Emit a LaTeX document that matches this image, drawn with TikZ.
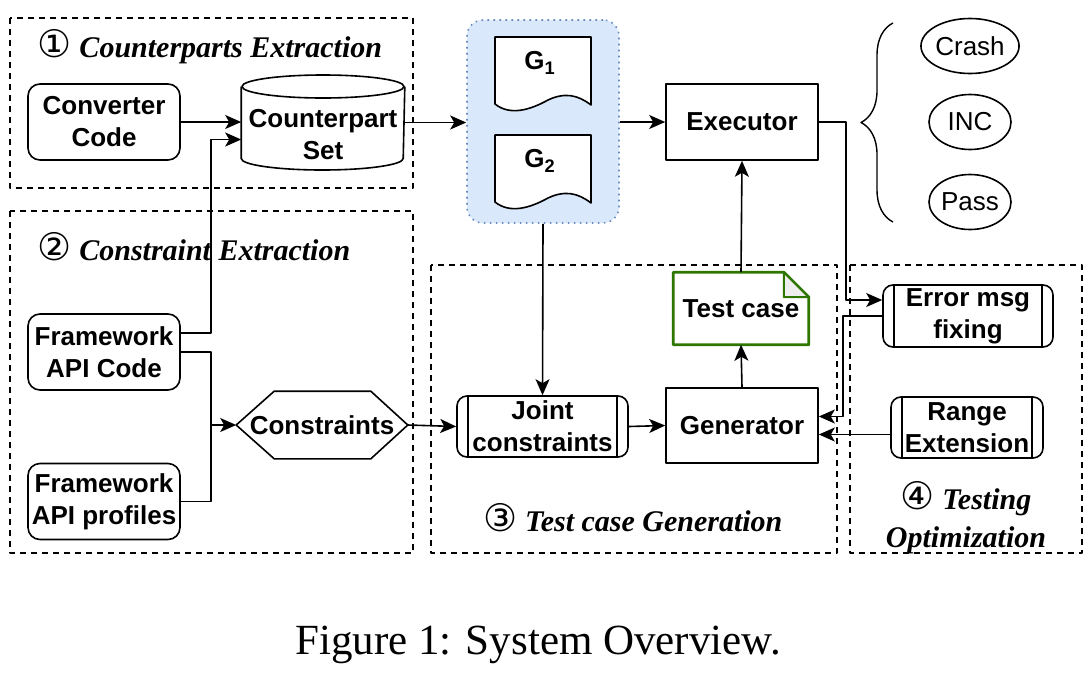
\documentclass[tikz,border=0pt]{standalone}
\usepackage{fontspec}
\setmainfont{Liberation Serif}
\setsansfont{Liberation Sans}
\newfontfamily\circfont{DejaVu Sans}
\usetikzlibrary{arrows.meta, positioning, shapes.geometric, decorations.pathreplacing}

\definecolor{gfill}{HTML}{DAE8FC}
\definecolor{gline}{HTML}{6C8EBF}
\definecolor{tcgreen}{HTML}{2D7600}
\definecolor{foldgray}{HTML}{EEEEEE}

\tikzset{
  boxfont/.style={font=\fontsize{13}{16}\selectfont\sffamily\bfseries},
  rbox/.style={draw, boxfont, rounded corners=6pt, align=center, inner sep=0pt, minimum width=76pt, minimum height=38pt},
  sbox/.style={draw, boxfont, align=center, inner sep=0pt, minimum width=76pt, minimum height=38pt},
  procbox/.style={draw, boxfont, rounded corners=5pt, align=center, inner sep=0pt, minimum height=30.5pt,
    path picture={
      \draw ([xshift=5.5pt]path picture bounding box.north west) -- ([xshift=5.5pt]path picture bounding box.south west);
      \draw ([xshift=-5.5pt]path picture bounding box.north east) -- ([xshift=-5.5pt]path picture bounding box.south east);}},
  outcome/.style={draw, ellipse, font=\fontsize{13}{16}\selectfont\sffamily, inner sep=0pt, minimum width=41pt, minimum height=27.5pt},
  region/.style={dash pattern=on 3pt off 2.5pt, line width=0.7pt},
  ttl/.style={font=\fontsize{15}{19}\selectfont\bfseries\itshape, align=center},
  arr/.style={-{Stealth[length=8pt, width=7pt, inset=2pt]}},
}
\newcommand{\cnum}[1]{{\circfont\mdseries\upshape\fontsize{19}{19}\selectfont #1}}

\begin{document}
\begin{tikzpicture}[x=0.5pt, y=-0.5pt, line width=0.8pt, line join=round]
  \useasboundingbox (0,0) rectangle (1085,675);

  % dashed stage frames
  \draw[region] (10,18) rectangle (413,188);
  \draw[region] (10,211) rectangle (413,553);
  \draw[region] (431,265) rectangle (837,553);
  \draw[region] (850,265) rectangle (1082,553);

  \node[ttl] (t1) at (210,47) {\cnum{①} Counterparts Extraction};
  \node[ttl] (t2) at (194,247) {\cnum{②} Constraint Extraction};
  \node[ttl] (t3) at (633,518) {\cnum{③} Test case Generation};
  \node[ttl] (t4) at (966,518) {\cnum{④} Testing\\Optimization};

  % stage 1 and 2
  \node[rbox] (conv) at (104,122) {Converter\\Code};
  \node[inner sep=0pt, minimum width=81pt, minimum height=47.5pt] (cset) at (323,122.5) {};
  \draw (cset.north west |- 0,86.5) -- (cset.south west |- 0,158.5) arc[start angle=180, end angle=0, x radius=81, y radius=11.5]
    -- (cset.north east |- 0,86.5);
  \draw (323,86.5) ellipse [x radius=81, y radius=11.5];
  \node[boxfont, align=center] (csettxt) at (323,135) {Counterpart\\Set};
  \node[rbox] (fac) at (104,352) {Framework\\API Code};
  \node[rbox] (fap) at (104,501.5) {Framework\\API profiles};
  \node[boxfont, inner sep=0pt, minimum width=85pt, minimum height=33pt] (cons) at (322,425) {Constraints};
  \draw (cons.west) -- ([xshift=19pt]cons.north west) -- ([xshift=-18.5pt]cons.north east) -- (cons.east)
    -- ([xshift=-18.5pt]cons.south east) -- ([xshift=19pt]cons.south west) -- cycle;

  % graph pair
  \node[draw=gline, fill=gfill, dash pattern=on 0.8pt off 2.2pt, rounded corners=8pt,
        minimum width=76pt, minimum height=101.5pt] (gset) at (543,121.5) {};
  \draw[fill=white] (495,37) -- (591,37) -- (591,105) .. controls (578,95) and (565,92) .. (548,100)
    .. controls (530,110) and (510,116) .. (495,104) -- cycle;
  \draw[fill=white] (495,135) -- (591,135) -- (591,203) .. controls (578,193) and (565,190) .. (548,198)
    .. controls (530,208) and (510,214) .. (495,202) -- cycle;
  \node[boxfont] (g1) at (540,63) {G\textsubscript{1}};
  \node[boxfont] (g2) at (540,161) {G\textsubscript{2}};

  % execution
  \node[sbox] (exec) at (742,122) {Executor};
  \node[outcome] (crash) at (970,46) {Crash};
  \node[outcome] (inc) at (970,122) {INC};
  \node[outcome] (pass) at (970,202) {Pass};
  \draw[decorate, decoration={brace, amplitude=16pt}, line width=0.7pt] (893,222) -- (893,23);

  % stage 3
  \node[procbox, minimum width=85.5pt] (joint) at (542.5,426.5) {Joint\\constraints};
  \node[sbox, minimum height=37.5pt] (gen) at (742,425.5) {Generator};
  \node[boxfont, inner sep=0pt, minimum width=67pt, minimum height=35.5pt] (tcase) at (741,308.5) {Test case};
  \draw[tcgreen, line width=1.4pt] (tcase.south west) -- (tcase.north west) -- ([xshift=-12.5pt]tcase.north east)
    -- ([yshift=-12.5pt]tcase.north east) -- (tcase.south east) -- cycle;
  \draw[tcgreen, fill=foldgray, line width=1pt] ([xshift=-12.5pt]tcase.north east) -- ([xshift=-12.5pt, yshift=-12.5pt]tcase.north east)
    -- ([yshift=-12.5pt]tcase.north east) -- cycle;

  % stage 4
  \node[procbox, minimum width=85pt, minimum height=31pt] (errfix) at (968,316) {Error msg\\fixing};
  \node[procbox, minimum width=76pt] (range) at (967,427.5) {Range\\Extension};

  % connectors
  \draw[arr] (conv.east) -- (conv.east -| cset.west);
  \coordinate (csetin) at ([yshift=-8.5pt]cset.west);
  \draw (fac.east) -- ++(30,0) coordinate (fork) |- (fap.east);
  \draw[arr] ([yshift=9.5pt]fac.east) -| (fork |- csetin) -- (csetin);
  \draw[arr] (fork |- cons.west) -- (cons.west);
  \draw[arr] (cset.east) -- (cset.east -| gset.west);
  \draw[arr] (gset.east |- exec.west) -- (exec.west);
  \draw[arr] (gset.south) -- (joint.north);
  \draw[arr] (cons.east) -- (joint.west);
  \draw[arr] (joint.east) -- (gen.west);
  \draw[arr] (gen.north) -- (tcase.south);
  \draw[arr] (tcase.north) -- (exec.south);
  \draw[arr] (exec.east) -- ++(27,0) |- ([yshift=8pt]errfix.west);
  \draw[arr] (errfix.west) -- ++(-39,0) |- ([yshift=4.5pt]gen.east);
  \coordinate (genin) at ([yshift=-4.5pt]gen.east);
  \draw[arr] (range.west |- genin) -- (genin);

  \node[font=\fontsize{21.5}{26}\selectfont] (cap) at (538,645) {Figure 1: System Overview.};
\end{tikzpicture}
\end{document}
